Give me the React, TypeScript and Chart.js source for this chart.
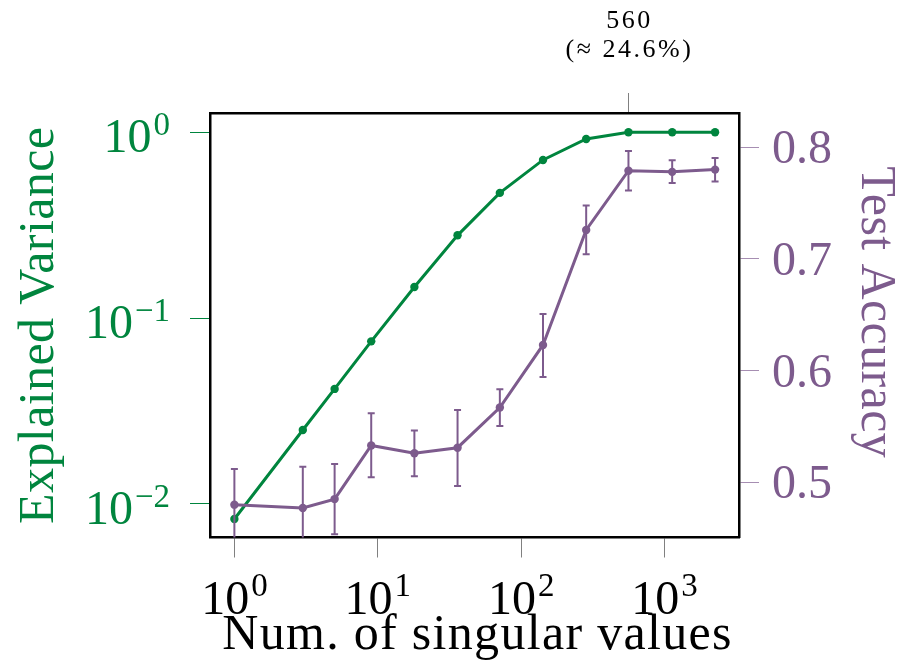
import React, { useEffect, useRef } from "react";
import { Chart, registerables } from "chart.js";

Chart.register(...registerables);

// ---- data ----
const singularValues = [1, 3, 5, 9, 18, 36, 71, 142, 284, 560, 1130, 2250];
const explainedVariance = [0.0083, 0.025, 0.0416, 0.075, 0.147, 0.279, 0.472, 0.71, 0.921, 1.0, 1.0, 1.0];
const testAccuracy = [0.48, 0.477, 0.485, 0.533, 0.526, 0.531, 0.567, 0.623, 0.726, 0.779, 0.778, 0.78];
const accuracyLow = [0.448, 0.44, 0.4534, 0.5045, 0.5054, 0.4967, 0.5504, 0.5943, 0.7042, 0.7612, 0.7681, 0.7693];
const accuracyHigh = [0.512, 0.514, 0.5164, 0.5618, 0.5463, 0.5648, 0.5833, 0.6507, 0.7478, 0.7967, 0.7884, 0.7904];

const xTickExponents = [0, 1, 2, 3];
const leftTickExponents = [0, -1, -2];
const rightTicks = [0.5, 0.6, 0.7, 0.8];
const annotationTicks = [560];
const annotationLabels = [["560", "(\u2248 24.6%)"]];

const xTitle = "Num. of singular values";
const leftTitle = "Explained Variance";
const rightTitle = "Test Accuracy";

const GREEN = "#00853E";
const PURPLE = "#7D5B8D";
const PURPLE_TICK = "#A68EB2";
const SERIF = "'Liberation Serif', 'DejaVu Serif', serif";

const supText = (e: number) => (e < 0 ? "\u2212" + Math.abs(e) : String(e));

const setSpacing = (ctx: any, v: string) => {
  try {
    ctx.letterSpacing = v;
  } catch (e) {}
};

const overlayPlugin = {
  id: "overlay",
  afterDatasetsDraw(chart: any) {
    const ctx = chart.ctx as CanvasRenderingContext2D;
    const x = chart.scales.x;
    const y2 = chart.scales.y2;
    const area = chart.chartArea;
    ctx.save();
    ctx.beginPath();
    ctx.rect(area.left, area.top, area.right - area.left, area.bottom - area.top);
    ctx.clip();
    ctx.strokeStyle = PURPLE;
    ctx.lineWidth = 2;
    singularValues.forEach((v, i) => {
      const px = x.getPixelForValue(v);
      const lo = y2.getPixelForValue(accuracyLow[i]);
      const hi = y2.getPixelForValue(accuracyHigh[i]);
      ctx.beginPath();
      ctx.moveTo(px, lo);
      ctx.lineTo(px, hi);
      ctx.moveTo(px - 3.5, lo);
      ctx.lineTo(px + 3.5, lo);
      ctx.moveTo(px - 3.5, hi);
      ctx.lineTo(px + 3.5, hi);
      ctx.stroke();
    });
    ctx.restore();
  },
  afterDraw(chart: any) {
    const ctx = chart.ctx as CanvasRenderingContext2D;
    const x = chart.scales.x;
    const x2 = chart.scales.x2;
    const y = chart.scales.y;
    const y2 = chart.scales.y2;
    const area = chart.chartArea;
    const mainFont = `48px ${SERIF}`;
    const supFont = `33px ${SERIF}`;
    ctx.save();
    ctx.textBaseline = "alphabetic";

    // bottom x tick labels
    ctx.fillStyle = "#000";
    xTickExponents.forEach((e) => {
      const px = x.getPixelForValue(Math.pow(10, e));
      ctx.font = mainFont;
      const w1 = ctx.measureText("10").width;
      ctx.font = supFont;
      const s = supText(e);
      const w2 = ctx.measureText(s).width;
      const start = px - (w1 + w2 + 2) / 2;
      ctx.textAlign = "left";
      ctx.font = mainFont;
      ctx.fillText("10", start, x.top + 76);
      ctx.font = supFont;
      ctx.fillText(s, start + w1 + 2, x.top + 58);
    });

    // left y tick labels
    ctx.fillStyle = GREEN;
    leftTickExponents.forEach((e) => {
      const py = y.getPixelForValue(Math.pow(10, e));
      const s = supText(e);
      ctx.font = supFont;
      const w2 = ctx.measureText(s).width;
      ctx.textAlign = "right";
      ctx.fillText(s, 170, py + 3);
      ctx.font = mainFont;
      ctx.fillText("10", 170 - w2 - 2, py + 20);
    });

    // right y tick labels
    ctx.fillStyle = PURPLE;
    ctx.font = mainFont;
    ctx.textAlign = "left";
    rightTicks.forEach((v) => {
      const py = y2.getPixelForValue(v);
      ctx.fillText(v.toFixed(1), 772, py + 16);
    });

    // top annotation labels
    ctx.fillStyle = "#000";
    ctx.textAlign = "center";
    ctx.font = `26px ${SERIF}`;
    setSpacing(ctx, "2.5px");
    annotationTicks.forEach((v, i) => {
      const px = x2.getPixelForValue(v) + 1;
      const lines = annotationLabels[i];
      ctx.fillText(lines[0], px, 28);
      ctx.fillText(lines[1], px, 57);
    });

    // titles
    ctx.font = `50px ${SERIF}`;
    ctx.fillStyle = "#000";
    ctx.textAlign = "center";
    setSpacing(ctx, "1.3px");
    ctx.fillText(xTitle, (area.left + area.right) / 2 + 3, 649);

    setSpacing(ctx, "0.4px");
    ctx.fillStyle = GREEN;
    ctx.save();
    ctx.translate(53, (area.top + area.bottom) / 2);
    ctx.rotate(-Math.PI / 2);
    ctx.fillText(leftTitle, 0, 0);
    ctx.restore();

    ctx.fillStyle = PURPLE;
    ctx.save();
    ctx.translate(862, (area.top + area.bottom) / 2 - 13);
    ctx.rotate(Math.PI / 2);
    ctx.fillText(rightTitle, 0, 0);
    ctx.restore();
    setSpacing(ctx, "0px");

    ctx.restore();
  },
};

export default function App() {
  const ref = useRef<HTMLCanvasElement | null>(null);
  useEffect(() => {
    document.body.style.margin = "0";
    const canvas = ref.current;
    if (!canvas) return;
    const green = singularValues.map((v, i) => ({ x: v, y: explainedVariance[i] }));
    const purple = singularValues.map((v, i) => ({ x: v, y: testAccuracy[i] }));
    const border = { display: true, color: "#000", width: 2.5 };
    const chart = new Chart(canvas, {
      type: "line",
      data: {
        datasets: [
          {
            label: rightTitle,
            data: purple,
            xAxisID: "x",
            yAxisID: "y2",
            borderColor: PURPLE,
            backgroundColor: PURPLE,
            pointBackgroundColor: PURPLE,
            pointBorderWidth: 0,
            pointRadius: 4.2,
            borderWidth: 3,
            tension: 0,
            order: 0,
          },
          {
            label: leftTitle,
            data: green,
            xAxisID: "x",
            yAxisID: "y",
            borderColor: GREEN,
            backgroundColor: GREEN,
            pointBackgroundColor: GREEN,
            pointBorderWidth: 0,
            pointRadius: 4.2,
            borderWidth: 3,
            tension: 0,
            order: 1,
          },
        ],
      },
      options: {
        responsive: false,
        animation: false,
        layout: { padding: 0 },
        plugins: { legend: { display: false }, tooltip: { enabled: false } },
        scales: {
          x: {
            type: "logarithmic",
            position: "bottom",
            min: 0.676,
            max: 3304,
            border,
            grid: { drawOnChartArea: false, drawTicks: true, tickLength: 20, color: "#808080", lineWidth: 1 },
            ticks: { display: false },
            afterBuildTicks: (s: any) => {
              s.ticks = xTickExponents.map((e) => ({ value: Math.pow(10, e) }));
            },
            afterFit: (s: any) => {
              s.height = 129.5;
            },
          },
          x2: {
            type: "logarithmic",
            position: "top",
            min: 0.676,
            max: 3304,
            border,
            grid: { drawOnChartArea: false, drawTicks: true, tickLength: 20, color: "#808080", lineWidth: 1 },
            ticks: { display: false },
            afterBuildTicks: (s: any) => {
              s.ticks = annotationTicks.map((v) => ({ value: v }));
            },
            afterFit: (s: any) => {
              s.height = 113;
            },
          },
          y: {
            type: "logarithmic",
            position: "left",
            min: 0.0066,
            max: 1.27,
            border,
            grid: { drawOnChartArea: false, drawTicks: true, tickLength: 20, color: GREEN, lineWidth: 1 },
            ticks: { display: false },
            afterBuildTicks: (s: any) => {
              s.ticks = leftTickExponents.map((e) => ({ value: Math.pow(10, e) }));
            },
            afterFit: (s: any) => {
              s.width = 210;
            },
          },
          y2: {
            type: "linear",
            position: "right",
            min: 0.4506,
            max: 0.8307,
            border,
            grid: { drawOnChartArea: false, drawTicks: true, tickLength: 20, color: PURPLE_TICK, lineWidth: 1 },
            ticks: { display: false },
            afterBuildTicks: (s: any) => {
              s.ticks = rightTicks.map((v) => ({ value: v }));
            },
            afterFit: (s: any) => {
              s.width = 166;
            },
          },
        },
      },
      plugins: [overlayPlugin],
    } as any);
    return () => chart.destroy();
  }, []);
  return <canvas ref={ref} width={905} height={667} style={{ display: "block" }} />;
}
